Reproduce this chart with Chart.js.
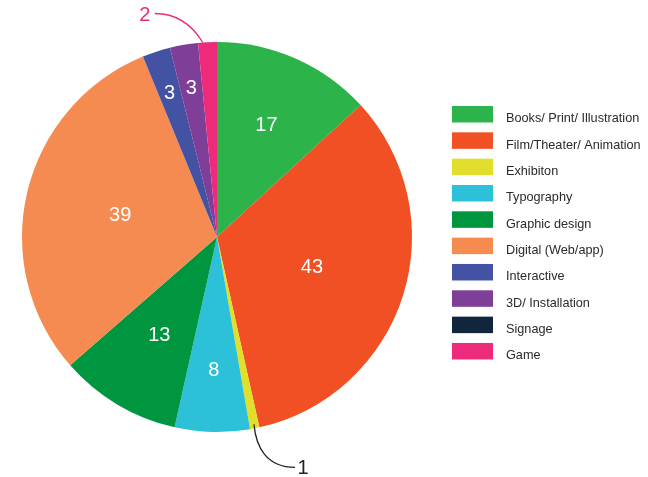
<!DOCTYPE html>
<html>
<head>
<meta charset="utf-8">
<script src="https://cdn.jsdelivr.net/npm/chart.js@4/dist/chart.umd.min.js"></script>
<style>
  html, body { margin: 0; padding: 0; background: #fff; }
  #wrap { width: 648px; height: 477px; position: relative; }
</style>
</head>
<body>
<div id="wrap"><canvas id="c" width="648" height="477"></canvas></div>
<script>
const categories = ["Books/ Print/ Illustration", "Film/Theater/ Animation", "Exhibiton", "Typography", "Graphic design", "Digital (Web/app)", "Interactive", "3D/ Installation", "Signage", "Game"];
const values = [17, 43, 1, 8, 13, 39, 3, 3, 0, 2];
const colors = ["#2cb34a", "#f14f24", "#e1df2c", "#2cc1d9", "#00953f", "#f68b51", "#4452a3", "#7f3f98", "#10263d", "#ee2a7b"];

const FONT = "'Liberation Sans', Arial, sans-serif";

function labelFraction(v) {
  if (v >= 30) return 0.51;
  if (v >= 15) return 0.63;
  if (v >= 10) return 0.58;
  if (v >= 5) return 0.68;
  return 0.78;
}

const labelsPlugin = {
  id: 'customLabels',
  afterDatasetsDraw(chart) {
    const ctx = chart.ctx;
    const meta = chart.getDatasetMeta(0);
    ctx.save();
    meta.data.forEach((arc, i) => {
      const v = values[i];
      if (!v) return;
      const mid = (arc.startAngle + arc.endAngle) / 2;
      const R = arc.outerRadius;
      if (v >= 3) {
        const f = labelFraction(v);
        const x = arc.x + Math.cos(mid) * R * f;
        const y = arc.y + Math.sin(mid) * R * f;
        ctx.fillStyle = '#ffffff';
        ctx.font = '20px ' + FONT;
        ctx.textAlign = 'center';
        ctx.textBaseline = 'middle';
        ctx.fillText(String(v), x, y + 1);
      } else {
        const up = Math.sin(mid) < 0;
        const a = up ? arc.startAngle + (arc.endAngle - arc.startAngle) * 0.25 : mid;
        const r0 = up ? R : R - 4;
        const sx = arc.x + Math.cos(a) * r0;
        const sy = arc.y + Math.sin(a) * r0;
        ctx.lineWidth = 1.3;
        ctx.strokeStyle = up ? colors[i] : '#222222';
        ctx.fillStyle = up ? colors[i] : '#222222';
        ctx.beginPath();
        ctx.moveTo(sx, sy);
        let lx, ly;
        if (up) {
          const ex = sx - 48, ey = sy - 29;
          ctx.bezierCurveTo(sx - 12, sy - 20, sx - 28, ey, ex, ey);
          lx = ex - 10; ly = ey + 2;
        } else {
          const ex = sx + 41, ey = sy + 43;
          ctx.bezierCurveTo(sx + 2, sy + 22, sx + 12, ey, ex, ey);
          lx = ex + 8; ly = ey + 1;
        }
        ctx.stroke();
        ctx.font = '20px ' + FONT;
        ctx.textAlign = 'center';
        ctx.textBaseline = 'middle';
        ctx.fillText(String(v), lx, ly);
      }
    });
    // legend
    const lx = 452, ly0 = 106, step = 26.33;
    categories.forEach((c, i) => {
      const y = ly0 + i * step;
      ctx.fillStyle = colors[i];
      ctx.fillRect(lx, y, 41, 16.5);
      ctx.fillStyle = '#2a2a2a';
      ctx.font = '12.7px ' + FONT;
      ctx.textAlign = 'left';
      ctx.textBaseline = 'alphabetic';
      ctx.fillText(c, 506, y + 16.3);
    });
    ctx.restore();
  }
};

new Chart(document.getElementById('c'), {
  type: 'pie',
  data: {
    labels: categories,
    datasets: [{ data: values, backgroundColor: colors, borderWidth: 0 }]
  },
  options: {
    responsive: false,
    animation: false,
    layout: { padding: { left: 22, right: 236, top: 42, bottom: 45 } },
    plugins: { legend: { display: false }, tooltip: { enabled: false } }
  },
  plugins: [labelsPlugin]
});
</script>
</body>
</html>
